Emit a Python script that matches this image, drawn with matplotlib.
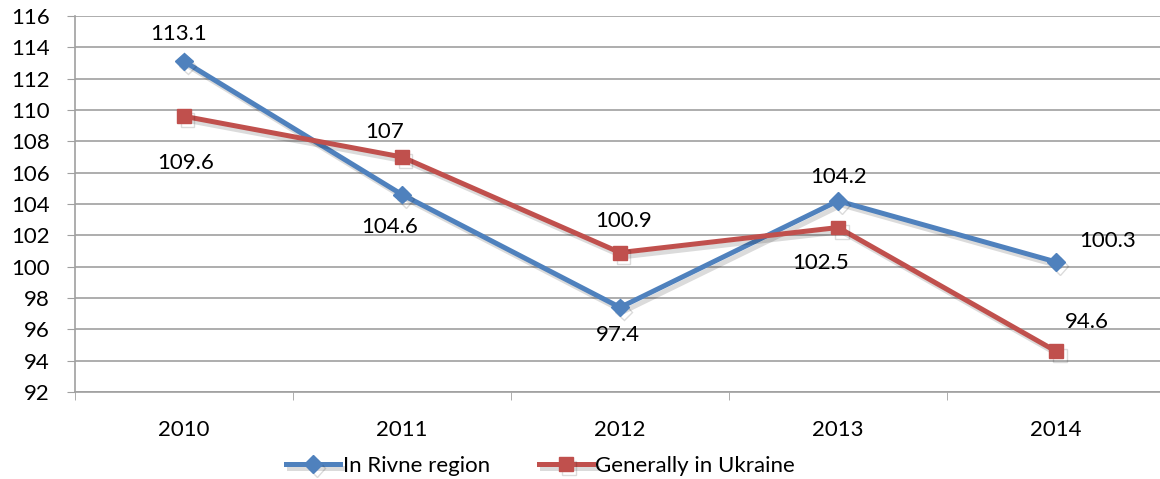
import matplotlib
matplotlib.use("Agg")
import matplotlib.pyplot as plt
import matplotlib.patheffects as pe
import numpy as np

years = ["2010", "2011", "2012", "2013", "2014"]
rivne = [113.1, 104.6, 97.4, 104.2, 100.3]
ukraine = [109.6, 107, 100.9, 102.5, 94.6]
rivne_labels = ["113.1", "104.6", "97.4", "104.2", "100.3"]
ukraine_labels = ["109.6", "107", "100.9", "102.5", "94.6"]

plt.rcParams["font.family"] = ["Lato", "DejaVu Sans"]

BLUE = "#4F81BD"
RED = "#C0504D"
GRID = "#A0A0A0"
FS = 16

fig = plt.figure(figsize=(11.6, 4.79), dpi=100)
ax = fig.add_axes([0.0647, 0.1816, 0.9397, 0.785])

x = np.arange(len(years))
# soft drop shadow under the lines
shadow = [pe.SimpleLineShadow(offset=(2.5, -3), shadow_color="black", alpha=0.14),
          pe.Normal()]

l1, = ax.plot(x, rivne, color=BLUE, lw=3.6, marker="D", ms=9, label="In Rivne region",
              path_effects=shadow, zorder=3)
l2, = ax.plot(x, ukraine, color=RED, lw=3.6, marker="s", ms=10, label="Generally in Ukraine",
              path_effects=shadow, zorder=3)

# label offsets in pixels
rivne_off = [(-5, 27), (-12, -32), (-2, -28), (0, 24), (51, 21)]
ukraine_off = [(2, -47), (-17, 25), (4, 32), (-18, -35), (31, 29)]
for i in range(len(years)):
    ax.annotate(rivne_labels[i], (x[i], rivne[i]), xytext=rivne_off[i], textcoords="offset pixels",
                ha="center", va="center", fontsize=FS)
    ax.annotate(ukraine_labels[i], (x[i], ukraine[i]), xytext=ukraine_off[i], textcoords="offset pixels",
                ha="center", va="center", fontsize=FS)

ax.set_xlim(-0.5, len(years) - 0.5)
ax.set_ylim(92, 116)
ax.set_yticks(np.arange(92, 117, 2))
ax.set_xticks(x)
ax.set_xticklabels(years)
ax.set_xticks(np.arange(-0.5, len(years), 1), minor=True)
ax.tick_params(axis="x", which="major", length=0, pad=20, labelsize=FS)
ax.tick_params(axis="x", which="minor", length=6, color=GRID)
ax.tick_params(axis="y", length=6, color=GRID, labelsize=FS, pad=12)

ax.grid(axis="y", color=GRID, lw=1.2)
ax.set_axisbelow(True)
for s in ["top", "right"]:
    ax.spines[s].set_visible(False)
ax.spines["left"].set_color(GRID)
ax.spines["bottom"].set_color(GRID)
ax.spines["left"].set_linewidth(1.2)
ax.spines["bottom"].set_linewidth(1.2)

ax.legend(handles=[l1, l2], loc="center", bbox_to_anchor=(0.427, -0.196), ncol=2, frameon=False,
          fontsize=FS, handlelength=2.45, handletextpad=0.1, columnspacing=2.2,
          borderpad=0, borderaxespad=0)

fig.savefig("out.png", dpi=100)
